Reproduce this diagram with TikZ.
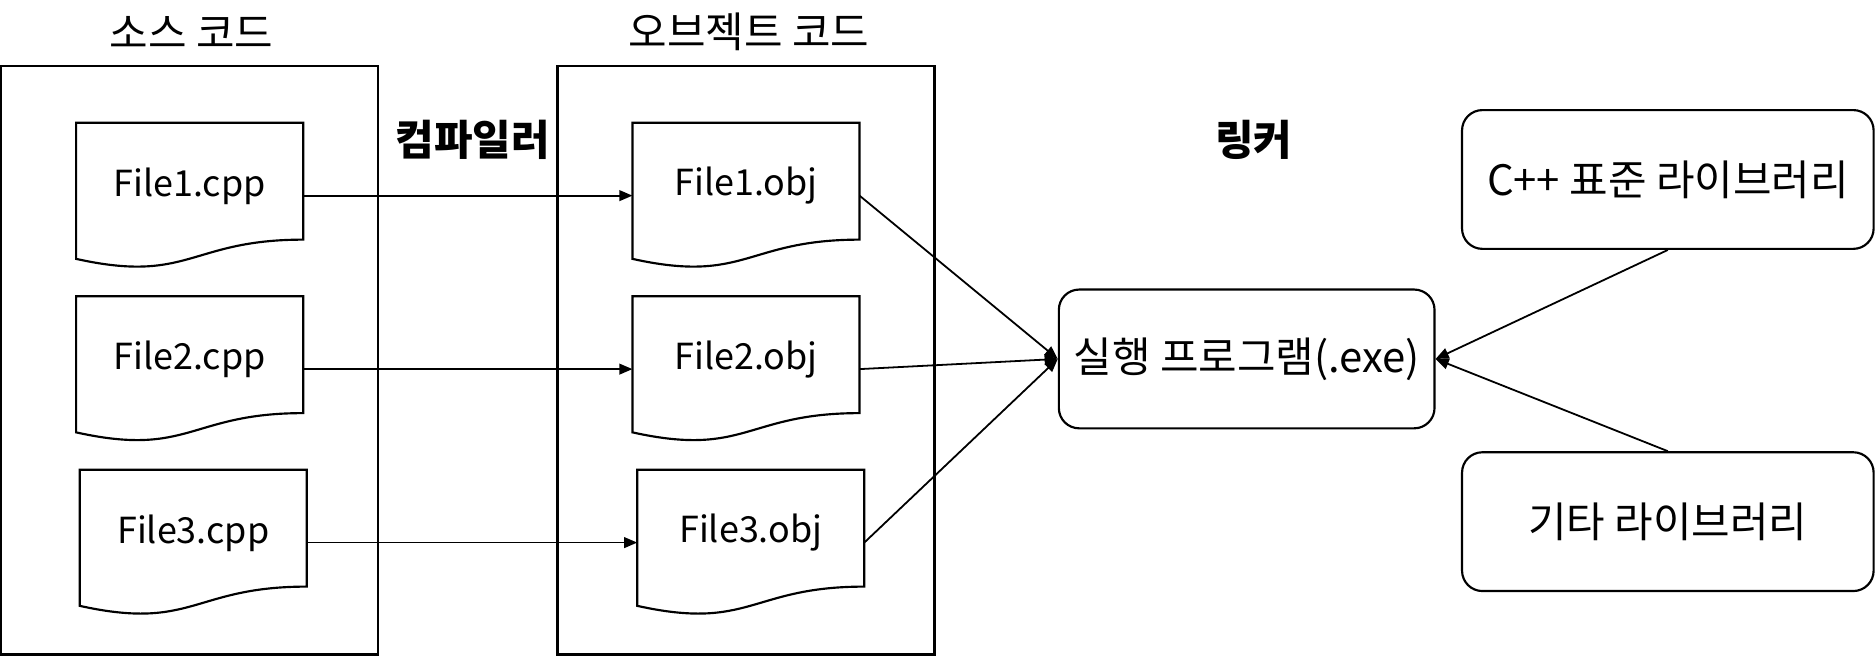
\documentclass[tikz,border=0pt]{standalone}
\usepackage{fontspec}
\setmainfont{Noto Sans CJK KR}
\usetikzlibrary{arrows.meta,calc}

\tikzset{
  every node/.style={font=\fontsize{17.5}{21}\selectfont},
  outline/.style={draw, line width=0.9pt},
  container/.style={outline, minimum width=157.5pt, minimum height=246pt, inner sep=0pt},
  doc/.style={minimum width=94.5pt, minimum height=60.5pt, inner sep=0pt},
  doctext/.style={yshift=4pt, font=\fontsize{15}{18}\selectfont},
  roundbox/.style={outline, rounded corners=8.5pt, minimum height=58pt, inner sep=0pt},
  arr/.style={-{Triangle[length=5.5pt,width=4.5pt]}, line width=0.75pt}
}

\begin{document}
\begin{tikzpicture}[x=0.5pt, y=-0.5pt]
\useasboundingbox (0,0) rectangle (1568,548);
% containers and titles
\node[container] (srcbox) at (158.5,301) {};
\node[container] (objbox) at (623.5,301) {};
\node (srctitle) at (160,27) {소스 코드};
\node (objtitle) at (626,27) {오브젝트 코드};
\node[font=\fontsize{17.5}{21}\selectfont\bfseries] (compiler) at (395,117) {컴파일러};
\node[font=\fontsize{17.5}{21}\selectfont\bfseries] (linker) at (1048,117) {링커};
% source files
\node[doc, label={[doctext]center:File1.cpp}] (f1cpp) at (158.5,163.5) {};
\node[doc, label={[doctext]center:File2.cpp}] (f2cpp) at (158.5,308.5) {};
\node[doc, label={[doctext]center:File3.cpp}] (f3cpp) at (161.5,453.5) {};
% object files
\node[doc, label={[doctext]center:File1.obj}] (f1obj) at (623.5,163.5) {};
\node[doc, label={[doctext]center:File2.obj}] (f2obj) at (623.5,308.5) {};
\node[doc, label={[doctext]center:File3.obj}] (f3obj) at (627.5,453.5) {};
\foreach \n in {f1cpp,f2cpp,f3cpp,f1obj,f2obj,f3obj}
  \draw[outline] (\n.north west) -- (\n.north east) -- ($(\n.north east)!0.802!(\n.south east)$)
    .. controls ($(\n.north)!0.802!(\n.south)$) and ($(\n.north)!1.107!(\n.south)$) .. ($(\n.north west)!0.934!(\n.south west)$) -- cycle;
% program and libraries
\node[roundbox, minimum width=157pt] (exe) at (1042,300) {실행 프로그램(.exe)};
\node[roundbox, minimum width=172pt] (stdlib) at (1394,150) {C++ 표준 라이브러리};
\node[roundbox, minimum width=172pt] (etclib) at (1394,436) {기타 라이브러리};
% compile
\draw[arr] (f1cpp) -- (f1obj);
\draw[arr] (f2cpp) -- (f2obj);
\draw[arr] (f3cpp) -- (f3obj);
% link
\foreach \n in {f1obj,f2obj,f3obj} \draw[arr] (\n.east) -- (exe.west);
\draw[arr] (stdlib.south) -- (exe.east);
\draw[arr] (etclib.north) -- (exe.east);
\end{tikzpicture}
\end{document}
